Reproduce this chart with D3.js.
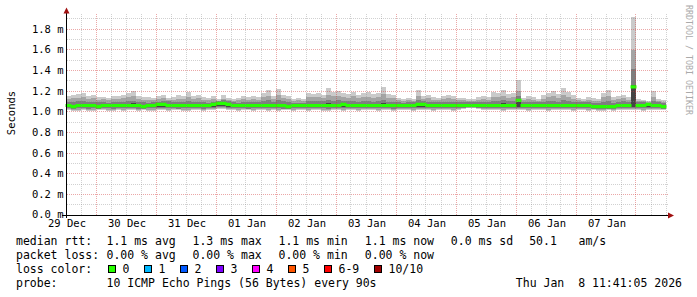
<!DOCTYPE html>
<html>
<head>
<meta charset="utf-8">
<script src="https://cdn.jsdelivr.net/npm/d3@7"></script>
<style>
  body { margin: 0; background: #fff; }
  svg { display: block; }
  text { font-family: "DejaVu Sans Mono", monospace; white-space: pre; }
</style>
</head>
<body>
<script>
// 10 days, one column every 2 hours (120 columns), values in ms
var medianRtt = [
  1.06,1.05,1.06,1.06,1.06,1.06,1.05,1.06,1.06,1.06,
  1.06,1.06,1.06,1.06,1.06,1.05,1.06,1.06,1.07,1.07,
  1.06,1.06,1.06,1.06,1.06,1.06,1.06,1.06,1.06,1.07,
  1.08,1.08,1.07,1.06,1.06,1.06,1.06,1.06,1.06,1.06,
  1.06,1.06,1.06,1.06,1.05,1.06,1.06,1.06,1.06,1.06,
  1.06,1.06,1.06,1.06,1.06,1.07,1.06,1.06,1.06,1.06,
  1.06,1.06,1.06,1.06,1.06,1.06,1.06,1.06,1.06,1.06,
  1.07,1.07,1.06,1.06,1.06,1.06,1.06,1.06,1.06,1.06,
  1.06,1.06,1.06,1.06,1.06,1.06,1.06,1.06,1.06,1.06,
  1.11,1.06,1.06,1.06,1.06,1.06,1.06,1.06,1.06,1.06,
  1.06,1.06,1.06,1.06,1.06,1.05,1.05,1.05,1.05,1.05,
  1.06,1.06,1.06,1.24,1.06,1.06,1.07,1.06,1.06,1.05
];
var pingMax = [
  1.15,1.16,1.17,1.18,1.15,1.16,1.14,1.14,1.13,1.15,
  1.15,1.16,1.18,1.20,1.15,1.14,1.14,1.13,1.15,1.16,
  1.13,1.14,1.16,1.15,1.19,1.15,1.16,1.14,1.13,1.15,
  1.12,1.16,1.13,1.12,1.13,1.15,1.14,1.15,1.14,1.18,
  1.21,1.15,1.22,1.16,1.15,1.12,1.13,1.12,1.18,1.17,
  1.18,1.16,1.23,1.19,1.20,1.18,1.17,1.19,1.16,1.18,
  1.19,1.17,1.18,1.24,1.17,1.16,1.13,1.12,1.13,1.12,
  1.21,1.15,1.16,1.14,1.13,1.15,1.16,1.15,1.13,1.13,
  1.12,1.12,1.14,1.15,1.14,1.19,1.18,1.21,1.17,1.18,
  1.31,1.13,1.15,1.14,1.12,1.16,1.18,1.20,1.17,1.23,
  1.19,1.16,1.13,1.12,1.14,1.13,1.12,1.18,1.21,1.14,
  1.15,1.16,1.14,1.92,1.12,1.11,1.10,1.20,1.12,1.11
];
var ping9 = [
  1.12,1.13,1.13,1.14,1.12,1.13,1.11,1.12,1.11,1.12,
  1.12,1.13,1.14,1.15,1.12,1.11,1.11,1.11,1.12,1.13,
  1.11,1.11,1.12,1.12,1.14,1.12,1.13,1.11,1.11,1.12,
  1.10,1.12,1.11,1.10,1.11,1.12,1.11,1.12,1.11,1.14,
  1.15,1.12,1.16,1.13,1.12,1.10,1.11,1.10,1.14,1.14,
  1.14,1.13,1.16,1.15,1.15,1.14,1.13,1.15,1.13,1.14,
  1.14,1.13,1.14,1.17,1.13,1.13,1.11,1.10,1.11,1.10,
  1.15,1.12,1.13,1.11,1.11,1.12,1.13,1.12,1.11,1.11,
  1.10,1.10,1.11,1.12,1.11,1.14,1.14,1.15,1.13,1.14,
  1.20,1.11,1.12,1.11,1.10,1.12,1.14,1.15,1.13,1.16,
  1.14,1.12,1.11,1.10,1.11,1.10,1.10,1.14,1.15,1.11,
  1.12,1.13,1.11,1.60,1.10,1.10,1.09,1.14,1.10,1.09
];
var ping8 = [
  1.09,1.09,1.10,1.10,1.09,1.09,1.09,1.09,1.08,1.09,
  1.09,1.09,1.10,1.10,1.09,1.09,1.08,1.09,1.09,1.10,
  1.10,1.09,1.09,1.09,1.10,1.09,1.09,1.09,1.08,1.09,
  1.10,1.11,1.10,1.09,1.08,1.09,1.09,1.09,1.09,1.10,
  1.11,1.09,1.11,1.10,1.09,1.08,1.08,1.08,1.10,1.10,
  1.10,1.10,1.11,1.10,1.11,1.10,1.10,1.10,1.09,1.10,
  1.10,1.09,1.10,1.11,1.09,1.09,1.09,1.08,1.09,1.09,
  1.11,1.10,1.09,1.09,1.09,1.09,1.09,1.09,1.09,1.09,
  1.09,1.09,1.09,1.09,1.09,1.10,1.10,1.11,1.10,1.10,
  1.15,1.09,1.09,1.09,1.09,1.09,1.10,1.10,1.09,1.11,
  1.10,1.09,1.09,1.09,1.09,1.08,1.08,1.09,1.10,1.08,
  1.09,1.10,1.09,1.41,1.09,1.09,1.08,1.10,1.09,1.08
];
var ping7 = [
  1.07,1.06,1.07,1.07,1.07,1.07,1.06,1.07,1.07,1.07,
  1.07,1.07,1.07,1.08,1.07,1.06,1.07,1.07,1.08,1.08,
  1.07,1.07,1.07,1.07,1.07,1.07,1.07,1.07,1.07,1.08,
  1.09,1.09,1.08,1.07,1.07,1.07,1.07,1.07,1.07,1.07,
  1.07,1.07,1.07,1.07,1.06,1.07,1.07,1.07,1.07,1.07,
  1.07,1.07,1.08,1.07,1.07,1.08,1.07,1.07,1.07,1.07,
  1.07,1.07,1.07,1.08,1.07,1.07,1.07,1.07,1.07,1.07,
  1.08,1.08,1.07,1.07,1.07,1.07,1.07,1.07,1.07,1.07,
  1.07,1.07,1.07,1.07,1.07,1.07,1.07,1.08,1.07,1.07,
  1.12,1.07,1.07,1.07,1.07,1.07,1.07,1.07,1.07,1.07,
  1.07,1.07,1.07,1.07,1.07,1.06,1.06,1.06,1.06,1.06,
  1.07,1.07,1.07,1.26,1.07,1.07,1.08,1.07,1.07,1.06
];
var ping4 = [
  1.05,1.04,1.05,1.05,1.05,1.05,1.04,1.05,1.05,1.05,
  1.05,1.05,1.05,1.05,1.05,1.04,1.05,1.05,1.05,1.05,
  1.05,1.05,1.05,1.05,1.05,1.05,1.05,1.05,1.05,1.05,
  1.06,1.06,1.05,1.05,1.05,1.05,1.05,1.05,1.05,1.05,
  1.05,1.05,1.05,1.05,1.04,1.05,1.05,1.05,1.05,1.05,
  1.05,1.05,1.05,1.05,1.05,1.05,1.05,1.05,1.05,1.05,
  1.05,1.05,1.05,1.05,1.05,1.05,1.05,1.05,1.05,1.05,
  1.05,1.05,1.05,1.05,1.05,1.05,1.05,1.05,1.05,1.05,
  1.05,1.05,1.05,1.05,1.05,1.05,1.05,1.05,1.05,1.05,
  1.05,1.05,1.05,1.05,1.05,1.05,1.05,1.05,1.05,1.05,
  1.05,1.05,1.05,1.05,1.05,1.04,1.04,1.04,1.04,1.04,
  1.05,1.05,1.05,1.05,1.05,1.05,1.05,1.05,1.05,1.04
];
var ping3 = [
  1.04,1.03,1.04,1.04,1.03,1.04,1.03,1.04,1.04,1.03,
  1.04,1.04,1.04,1.04,1.03,1.03,1.04,1.04,1.04,1.04,
  1.04,1.04,1.03,1.04,1.04,1.04,1.04,1.03,1.04,1.04,
  1.05,1.05,1.04,1.04,1.04,1.04,1.03,1.04,1.04,1.04,
  1.04,1.04,1.04,1.03,1.03,1.04,1.04,1.04,1.04,1.04,
  1.04,1.04,1.03,1.04,1.04,1.04,1.04,1.04,1.04,1.04,
  1.04,1.04,1.04,1.04,1.04,1.03,1.04,1.04,1.04,1.04,
  1.04,1.04,1.04,1.04,1.04,1.04,1.04,1.04,1.04,1.04,
  1.05,1.05,1.04,1.04,1.04,1.04,1.04,1.04,1.04,1.04,
  1.04,1.04,1.04,1.04,1.04,1.04,1.04,1.04,1.04,1.04,
  1.04,1.04,1.04,1.04,1.04,1.03,1.03,1.03,1.03,1.03,
  1.04,1.04,1.04,1.04,1.04,1.04,1.04,1.04,1.04,1.03
];
var ping2 = [
  1.03,1.02,1.02,1.03,1.02,1.02,1.03,1.03,1.02,1.02,
  1.03,1.02,1.03,1.03,1.02,1.03,1.02,1.02,1.03,1.03,
  1.02,1.03,1.03,1.02,1.02,1.03,1.03,1.02,1.03,1.03,
  1.04,1.04,1.03,1.03,1.02,1.03,1.03,1.02,1.03,1.03,
  1.02,1.03,1.02,1.03,1.03,1.02,1.03,1.03,1.02,1.03,
  1.03,1.02,1.02,1.03,1.03,1.02,1.03,1.03,1.02,1.03,
  1.03,1.03,1.02,1.03,1.03,1.02,1.03,1.03,1.03,1.02,
  1.03,1.03,1.03,1.02,1.03,1.03,1.03,1.02,1.03,1.04,
  1.04,1.04,1.04,1.03,1.03,1.03,1.03,1.02,1.03,1.03,
  1.03,1.03,1.02,1.03,1.03,1.03,1.02,1.03,1.03,1.03,
  1.03,1.02,1.03,1.03,1.02,1.03,1.02,1.02,1.03,1.02,
  1.03,1.03,1.03,1.03,1.03,1.02,1.03,1.03,1.03,1.03
];
var pingMin = [
  1.02,1.01,1.01,1.02,1.01,1.01,1.02,1.02,1.01,1.01,
  1.02,1.01,1.02,1.02,1.01,1.02,1.01,1.01,1.02,1.02,
  1.01,1.02,1.02,1.01,1.01,1.02,1.02,1.01,1.02,1.02,
  1.03,1.03,1.02,1.02,1.01,1.02,1.02,1.01,1.02,1.02,
  1.01,1.02,1.01,1.02,1.02,1.01,1.02,1.02,1.01,1.02,
  1.02,1.01,1.01,1.02,1.02,1.01,1.02,1.02,1.01,1.02,
  1.02,1.02,1.01,1.02,1.02,1.01,1.02,1.02,1.02,1.01,
  1.02,1.02,1.02,1.01,1.02,1.02,1.02,1.01,1.02,1.03,
  1.04,1.04,1.03,1.02,1.02,1.02,1.02,1.01,1.02,1.02,
  1.02,1.02,1.01,1.02,1.02,1.02,1.01,1.02,1.02,1.02,
  1.02,1.01,1.02,1.02,1.01,1.02,1.01,1.01,1.02,1.01,
  1.02,1.02,1.02,1.02,1.02,1.01,1.02,1.02,1.02,1.02
];

var yTickValues = [0, 0.2, 0.4, 0.6, 0.8, 1.0, 1.2, 1.4, 1.6, 1.8];
var rttStats = ["1.1 ms avg", "1.3 ms max", "1.1 ms min", "1.1 ms now", "0.0 ms sd", "50.1", "am/s"];
var lossStats = ["0.00 % avg", "0.00 % max", "0.00 % min", "0.00 % now"];
var lossLabels = ["0", "1", "2", "3", "4", "5", "6-9", "10/10"];
var lossColors = ["#26ff00", "#00b8ff", "#0059ff", "#7e00ff", "#ff00ff", "#ff5500", "#ff0000", "#a10000"];
var probeText = "10 ICMP Echo Pings (56 Bytes) every 90s";
var stampText = "Thu Jan  8 11:41:05 2026";

var width = 697, height = 297;
var timeStart = new Date(2025, 11, 29, 12, 0, 0);
var timeEnd = new Date(2026, 0, 8, 12, 0, 0);
var stepHours = 2;

var svg = d3.select("body").append("svg")
    .attr("width", width)
    .attr("height", height);

var x = d3.scaleTime().domain([timeStart, timeEnd]).range([66, 666]);
var y = d3.scaleLinear().domain([0, 1.94]).range([215, 14.6]);
var crisp = function (v) { return Math.floor(v) + 0.5; };

var cols = medianRtt.map(function (m, i) {
    var t = d3.timeHour.offset(timeStart, i * stepHours);
    return {
        t: t, t2: d3.timeHour.offset(t, stepHours), med: m,
        min: pingMin[i], p2: ping2[i], p3: ping3[i], p4: ping4[i],
        p7: ping7[i], p8: ping8[i], p9: ping9[i], max: pingMax[i]
    };
});

// smoke: outer pair lightest, inner pair darkest
var bands = [
    { lo: "min", hi: "max", color: "#cacaca" },
    { lo: "p2", hi: "p9", color: "#a4a4a4" },
    { lo: "p3", hi: "p8", color: "#7e7e7e" },
    { lo: "p4", hi: "p7", color: "#454545" }
];

var smoke = svg.append("g").attr("shape-rendering", "crispEdges");
bands.forEach(function (b) {
    smoke.append("g").selectAll("rect")
        .data(cols)
        .enter().append("rect")
        .attr("x", function (d) { return Math.round(x(d.t)); })
        .attr("width", function (d) { return Math.round(x(d.t2)) - Math.round(x(d.t)); })
        .attr("y", function (d) { return Math.round(y(d[b.hi])); })
        .attr("height", function (d) { return Math.max(0, Math.round(y(d[b.lo])) - Math.round(y(d[b.hi]))); })
        .attr("fill", b.color);
});

// median: one short flat stroke per column
var medPath = cols.map(function (d) {
    return "M" + (Math.round(x(d.t)) - 0.5) + "," + y(d.med) + "H" + (Math.round(x(d.t2)) + 0.5);
}).join("");
svg.append("path")
    .attr("d", medPath)
    .attr("fill", "none")
    .attr("stroke", lossColors[0])
    .attr("stroke-width", 3.2);

// grid on top of the graph
var grid = svg.append("g").attr("shape-rendering", "crispEdges");
d3.range(1, 20).forEach(function (k) {
    var v = k / 10;
    var major = k % 2 === 0;
    grid.append("line")
        .attr("x1", 67).attr("x2", 668)
        .attr("y1", crisp(y(v))).attr("y2", crisp(y(v)))
        .attr("stroke", major ? "#d23c3c" : "#8c8c8c")
        .attr("stroke-opacity", major ? 0.45 : 0.4)
        .attr("stroke-dasharray", "1,1");
});
d3.timeHour.every(6).range(d3.timeHour.offset(timeStart, 1), d3.timeHour.offset(timeEnd, 1)).forEach(function (t) {
    var major = t.getHours() === 0;
    grid.append("line")
        .attr("x1", crisp(x(t))).attr("x2", crisp(x(t)))
        .attr("y1", 14).attr("y2", 215)
        .attr("stroke", major ? "#d23c3c" : "#8c8c8c")
        .attr("stroke-opacity", major ? 0.45 : 0.4)
        .attr("stroke-dasharray", "1,1");
});

// axes
var axes = svg.append("g").attr("shape-rendering", "crispEdges");
axes.append("line").attr("x1", 62).attr("x2", 670).attr("y1", 215.5).attr("y2", 215.5)
    .attr("stroke", "#000");
axes.append("line").attr("x1", 66.5).attr("x2", 66.5).attr("y1", 218).attr("y2", 11)
    .attr("stroke", "#000");
svg.append("path").attr("d", "M63.5,13.5L69.5,13.5L66.5,7.5Z").attr("fill", "#a01010");
svg.append("path").attr("d", "M668,212.5L668,218.5L674,215.5Z").attr("fill", "#a01010");

// y labels
svg.append("g").selectAll("text")
    .data(yTickValues)
    .enter().append("text")
    .attr("x", 63.5)
    .attr("y", function (d) { return crisp(y(d)) - (d === 0 ? 1 : 0); })
    .attr("dy", "0.34em")
    .attr("text-anchor", "end")
    .attr("font-size", "10.5px")
    .attr("fill", "#000")
    .text(function (d) { return d3.format(".1f")(d) + " m"; });

// x labels centred on noon of each day
svg.append("g").selectAll("text")
    .data(d3.timeDay.range(d3.timeDay.floor(timeStart), d3.timeDay.floor(timeEnd)))
    .enter().append("text")
    .attr("x", function (d) { return x(d3.timeHour.offset(d, 12)) + 1; })
    .attr("y", 227)
    .attr("text-anchor", "middle")
    .attr("font-size", "10.5px")
    .attr("fill", "#000")
    .text(function (d) { return d3.timeFormat("%d %b")(d); });

svg.append("text")
    .attr("transform", "translate(14.5,113) rotate(-90)")
    .attr("text-anchor", "middle")
    .attr("font-size", "10.5px")
    .attr("fill", "#000")
    .text("Seconds");

svg.append("text")
    .attr("transform", "translate(685.5,5) rotate(90)")
    .attr("font-size", "8.3px")
    .attr("fill", "#aaaaaa")
    .text("RRDTOOL / TOBI OETIKER");

// legend
var legend = svg.append("g").attr("font-size", "11.5px").attr("fill", "#000");
var rowY = [245, 259, 273, 287];
var statX = [106.5, 192.5, 278.5, 364.8, 450.8, 529.2, 578.5];

legend.append("text").attr("x", 16).attr("y", rowY[0]).text("median rtt:");
rttStats.forEach(function (s, i) {
    legend.append("text").attr("x", statX[i]).attr("y", rowY[0]).text(s);
});
legend.append("text").attr("x", 16).attr("y", rowY[1]).text("packet loss:");
lossStats.forEach(function (s, i) {
    legend.append("text").attr("x", statX[i]).attr("y", rowY[1]).text(s);
});
legend.append("text").attr("x", 16).attr("y", rowY[2]).text("loss color:");
var bx = 108.5;
lossLabels.forEach(function (s, i) {
    legend.append("rect")
        .attr("x", bx).attr("y", 265.5).attr("width", 7).attr("height", 7)
        .attr("fill", lossColors[i]).attr("stroke", "#000").attr("stroke-width", 1)
        .attr("shape-rendering", "crispEdges");
    var t = legend.append("text").attr("x", bx + 14).attr("y", rowY[2]).text(s);
    bx = bx + 14 + t.node().getComputedTextLength() + 15.2;
    bx = Math.round(bx - 0.5) + 0.5;
});
legend.append("text").attr("x", 16).attr("y", rowY[3]).text("probe:");
legend.append("text").attr("x", statX[0]).attr("y", rowY[3]).text(probeText);
legend.append("text").attr("x", 682).attr("y", rowY[3]).attr("text-anchor", "end").text(stampText);
</script>
</body>
</html>
